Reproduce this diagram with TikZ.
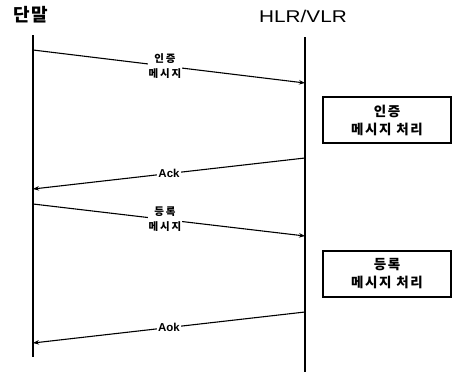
\documentclass[tikz,border=0pt]{standalone}
\usepackage{fontspec}
\setmainfont{Liberation Sans}
\newfontfamily\kr[LetterSpace=18]{Noto Sans CJK KR}
\newfontfamily\krb[LetterSpace=12]{Noto Sans CJK KR}
\newfontfamily\krtitle[LetterSpace=6]{Noto Sans CJK KR}
\usetikzlibrary{arrows.meta}
\begin{document}
\begin{tikzpicture}[x=1pt,y=-1pt,
  life/.style={line width=1.1pt},
  msg/.style={line width=1.1pt,-{Stealth[length=6pt,width=4.5pt]}},
  lbl/.style={fill=white,inner sep=1pt,font=\kr\bfseries\fontsize{10.5}{15}\selectfont,align=center},
  acklbl/.style={fill=white,inner sep=1pt,font=\bfseries\fontsize{11.5}{12}\selectfont},
  procbox/.style={draw,line width=1.1pt,minimum width=128pt,minimum height=46pt,align=center,font=\krb\bfseries\fontsize{13.5}{18}\selectfont}
]
\useasboundingbox (0,0) rectangle (455,372);
\node (t1) at (31,15) {\krtitle\bfseries\fontsize{18}{18}\selectfont 단말};
\node (t2) at (303,16) {\fontsize{17}{17}\selectfont\scalebox{1.22}[1]{HLR/VLR}};
\coordinate (lt) at (33,35);
\coordinate (lb) at (33,357);
\coordinate (rt) at (305,37);
\coordinate (rb) at (305,372);
\draw[life] (lt) -- (lb);
\draw[life] (rt) -- (rb);
\coordinate (a1s) at (33,50);
\coordinate (a1e) at (305,83);
\coordinate (a2s) at (305,158);
\coordinate (a2e) at (33,189);
\coordinate (a3s) at (33,204);
\coordinate (a3e) at (305,236);
\coordinate (a4s) at (305,312);
\coordinate (a4e) at (33,343);
\draw[msg] (a1s) -- node[lbl,pos=0.485] (m1) {인증\\메시지} (a1e);
\draw[msg] (a2s) -- node[acklbl,pos=0.5] (k1) {Ack} (a2e);
\draw[msg] (a3s) -- node[lbl,pos=0.485] (m2) {등록\\메시지} (a3e);
\draw[msg] (a4s) -- node[acklbl,pos=0.5] (k2) {Aok} (a4e);
\node[procbox] (p1) at (387,120) {인증\\메시지 처리};
\node[procbox] (p2) at (387,274) {등록\\메시지 처리};
\end{tikzpicture}
\end{document}
